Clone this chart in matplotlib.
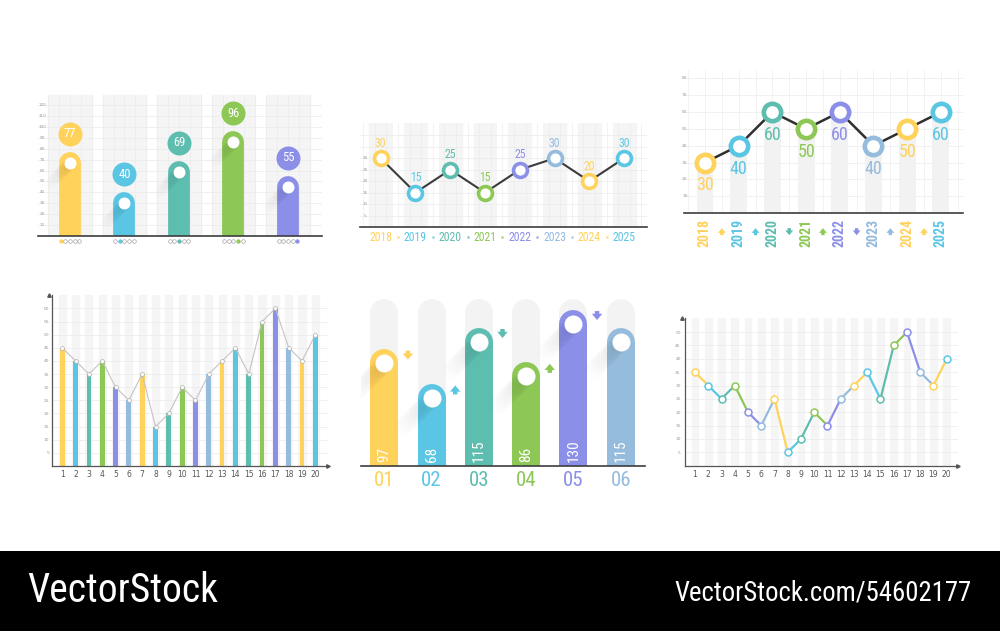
import numpy as np
import matplotlib.pyplot as plt
from matplotlib import font_manager
from matplotlib.font_manager import FontProperties


def narrow_fonts():
    # look for any condensed / narrow face among the installed fonts
    reg, bold = None, None
    good = []
    for f in font_manager.fontManager.ttflist:
        name = f.name + ' ' + str(f.fname)
        cond = ('Narrow' in name or 'Condensed' in name
                or f.stretch in ('condensed', 'semi-condensed', 'extra-condensed'))
        if cond and f.style == 'normal':
            good.append(f)
    good.sort(key=lambda f: ('Liberation' not in f.name, 'Roboto' not in f.name, f.name))
    for f in good:
        w = f.weight if isinstance(f.weight, int) else (700 if 'bold' in str(f.weight) else 400)
        if w <= 500 and reg is None:
            reg = FontProperties(fname=f.fname)
        if w >= 600 and bold is None:
            bold = FontProperties(fname=f.fname)
    if reg is None:
        reg = FontProperties(family='DejaVu Sans')
    if bold is None:
        bold = reg
    return reg, bold


NARROW, NARROW_B = narrow_fonts()

# palette
YEL = '#FFD25C'
BLU = '#5BC6E4'
TEA = '#5DBDAF'
GRN = '#8DC856'
PUR = '#8C8FE8'
STL = '#95BCDD'
CYCLE = [YEL, BLU, TEA, GRN, PUR, STL]
BAND = '#F5F5F5'
GRID = '#EAEAEA'
AXIS = '#3d3d3d'
TICK = '#9a9a9a'

# ---- data ----
p1_vals = [77, 40, 69, 96, 55]
p1_colors = [YEL, BLU, TEA, GRN, PUR]
p1_yticks = list(range(10, 130, 10))

p2_years = ['2018', '2019', '2020', '2021', '2022', '2023', '2024', '2025']
p2_vals = [30, 15, 25, 15, 25, 30, 20, 30]
p2_colors = [YEL, BLU, TEA, GRN, PUR, STL, YEL, BLU]
p2_yticks = [5, 10, 15, 20, 25, 30]

p3_years = ['2018', '2019', '2020', '2021', '2022', '2023', '2024', '2025']
p3_vals = [30, 40, 60, 50, 60, 40, 50, 60]
p3_colors = [YEL, BLU, TEA, GRN, PUR, STL, YEL, BLU]
p3_yticks = [10, 20, 30, 40, 50, 60, 70, 80]

p4_x = list(range(1, 21))
p4_vals = [45, 40, 35, 40, 30, 25, 35, 15, 20, 30, 25, 35, 40, 45, 35, 55, 60, 45, 40, 50]
p4_yticks = list(range(5, 65, 5))

p5_labels = ['01', '02', '03', '04', '05', '06']
p5_vals = [97, 68, 115, 86, 130, 115]
p5_colors = [YEL, BLU, TEA, GRN, PUR, STL]
p5_track = 138.5

p6_x = list(range(1, 21))
p6_vals = [35, 30, 25, 30, 20, 15, 25, 5, 10, 20, 15, 25, 30, 35, 25, 45, 50, 35, 30, 40]
p6_yticks = list(range(5, 55, 5))

W, H = 1000, 631
fig = plt.figure(figsize=(W / 100, H / 100), dpi=100)
fig.patch.set_facecolor('white')


def axes_at(left, top, right, bottom):
    ax = fig.add_axes([left / W, 1 - bottom / H, (right - left) / W, (bottom - top) / H])
    ax.set_facecolor('none')
    return ax


def px_per_unit(ax):
    x0, x1 = ax.get_xlim()
    y0, y1 = ax.get_ylim()
    return ax.bbox.width / (x1 - x0), ax.bbox.height / (y1 - y0)


def pill(ax, x, top, width, color, z=2):
    # bar with rounded top, drawn as a thick line with a round cap
    pxx, pxy = px_per_unit(ax)
    wpx = width * pxx
    r = wpx / 2 / pxy
    ax.plot([x, x], [-50, top - r], color=color, lw=wpx * 0.72,
            solid_capstyle='round', zorder=z)
    return r


def shadow(ax, x, y, rpx, length=26, z=2.5):
    # soft long shadow falling to the lower left of a circle
    pxx, pxy = px_per_unit(ax)
    n = 14
    for k in range(n):
        d = length * k / n
        ax.plot(x - d / pxx, y - d / pxy, 'o', ms=rpx * 2 * 0.72, color='#000000',
                alpha=0.022 * (1 - k / n), mec='none', zorder=z)


def arrow(ax, x, y, up, color, size=9, scale=1.0):
    pxx, pxy = px_per_unit(ax)
    half = size / 2 / pxy
    y0, y1 = (y - half, y + half) if up else (y + half, y - half)
    ax.annotate('', xy=(x, y1), xytext=(x, y0), annotation_clip=False,
                arrowprops=dict(arrowstyle='simple,head_length=0.45,head_width=0.75,tail_width=0.32',
                                color=color, mutation_scale=10 * scale, lw=0,
                                shrinkA=0, shrinkB=0))


def clean(ax):
    for s in ax.spines.values():
        s.set_visible(False)
    ax.set_xticks([])
    ax.set_yticks([])


# ================= panel 1 =================
ax1 = axes_at(38, 93, 322, 236)
ax1.set_xlim(-0.587, 4.624)
ax1.set_ylim(0, 131)
clean(ax1)
for i in range(5):
    ax1.axvspan(i - 0.4, i + 0.4, ymax=129 / 131, color=BAND, zorder=0)
for y in p1_yticks:
    ax1.axhline(y, color=GRID, lw=0.5, zorder=0.5)
for xg in np.arange(-0.4, 4.5, 0.2):
    ax1.axvline(xg, ymax=129 / 131, color=GRID, lw=0.4, zorder=0.5)
for y in p1_yticks:
    ax1.text(-0.51, y, str(y), fontsize=3, color=TICK, ha='center', va='center')
for i, (v, c) in enumerate(zip(p1_vals, p1_colors)):
    r = pill(ax1, i, v, 0.40, c)
    shadow(ax1, i, v - r, 6, length=24)
    ax1.plot(i, v - r, 'o', ms=12 * 0.72, color='white', mec='none', zorder=4)
    ax1.plot(i, v + 16.5, 'o', ms=24 * 0.72, color=c, mec='none', zorder=4)
    ax1.text(i, v + 16.5, str(v), color='white', ha='center', va='center',
             fontsize=9, fontproperties=NARROW, zorder=5)
    for k in range(5):
        ax1.plot(i + (k - 2) * 0.083, -4.6, 'o', ms=2.6,
                 mfc=c if k == i else 'white', mec='#8f8f8f' if k != i else c,
                 mew=0.4, clip_on=False)
ax1.axhline(0, color=AXIS, lw=1.2, clip_on=False, zorder=6)

# ================= panel 2 =================
ax2 = axes_at(360, 123, 647, 227)
ax2.set_xlim(-0.595, 7.66)
ax2.set_ylim(0, 45.4)
clean(ax2)
for i in range(len(p2_vals)):
    ax2.axvspan(i - 0.33, i + 0.33, color=BAND, zorder=0)
for y in range(5, 45, 5):
    ax2.axhline(y, color=GRID, lw=0.5, zorder=0.5)
for xg in np.arange(-0.5, 7.6, 1 / 3):
    ax2.axvline(xg, color=GRID, lw=0.4, zorder=0.5)
for y in p2_yticks:
    ax2.text(-0.45, y, str(y), fontsize=3, color=TICK, ha='center', va='center')
xs2 = np.arange(len(p2_vals))
ax2.plot(xs2, p2_vals, color='#3b3b3b', lw=1.5, zorder=3)
for i, (v, c, yr) in enumerate(zip(p2_vals, p2_colors, p2_years)):
    ax2.plot(i, v, 'o', ms=10, mfc='white', mec=c, mew=2.6, zorder=4)
    ax2.annotate(str(v), (i, v), xytext=(0, 6), textcoords='offset points',
                 ha='center', va='bottom', color=c, fontsize=8.5, fontproperties=NARROW)
    ax2.text(i, -4.4, yr, color=c, ha='center', va='center', fontsize=8.5,
             fontproperties=NARROW)
    if i < len(p2_vals) - 1:
        ax2.plot(i + 0.5, -4.4, 's', ms=2, color=c, mec='none', clip_on=False)
ax2.axhline(0, color=AXIS, lw=1.2, clip_on=False, zorder=6)

# ================= panel 3 =================
ax3 = axes_at(684, 70, 963, 213)
ax3.set_xlim(-0.623, 7.656)
ax3.set_ylim(0, 85)
clean(ax3)
for y in p3_yticks:
    ax3.axhline(y, color=GRID, lw=0.5, zorder=0.5)
for xg in np.arange(-0.5, 7.6, 0.5):
    ax3.axvline(xg, color=GRID, lw=0.4, zorder=0.5)
for y in p3_yticks:
    ax3.text(-0.68, y, str(y), fontsize=3.2, color=TICK, ha='left', va='center')
xs3 = np.arange(len(p3_vals))
ax3.bar(xs3, p3_vals, width=0.5, color='#F2F2F2', zorder=1)
ax3.plot(xs3, p3_vals, color='#2f2f2f', lw=1.8, zorder=3)
for i, (v, c, yr) in enumerate(zip(p3_vals, p3_colors, p3_years)):
    ax3.plot(i, v, 'o', ms=12.5, mfc='white', mec=c, mew=3.3, zorder=4)
    ax3.annotate(str(v), (i, v), xytext=(0, -10), textcoords='offset points',
                 ha='center', va='top', color=c, fontsize=13, fontproperties=NARROW)
    ax3.text(i, -3.6, yr, color=c, rotation=90, ha='center', va='top',
             fontsize=10, fontproperties=NARROW_B)
    if i < len(p3_vals) - 1:
        arrow(ax3, i + 0.5, -11.1, p3_vals[i + 1] > p3_vals[i], c, size=7, scale=0.75)
ax3.axhline(0, color=AXIS, lw=1.2, clip_on=False, zorder=6)

# ================= panel 4 =================
ax4 = axes_at(52, 295, 328, 466)
ax4.set_xlim(0.23, 20.95)
ax4.set_ylim(0, 65.1)
for s in ['top', 'right']:
    ax4.spines[s].set_visible(False)
for s in ['left', 'bottom']:
    ax4.spines[s].set_color('#555555')
    ax4.spines[s].set_linewidth(0.9)
ax4.plot(1, 0, '>', ms=2.5, color='#555555', transform=ax4.get_yaxis_transform(), clip_on=False)
ax4.plot(0, 1, '^', ms=2.5, color='#555555', transform=ax4.get_xaxis_transform(), clip_on=False)
for x in p4_x:
    ax4.axvspan(x - 0.27, x + 0.27, color=BAND, zorder=0)
for y in p4_yticks:
    ax4.axhline(y, color=GRID, lw=0.5, zorder=0.5)
p4_colors = [CYCLE[i % 6] for i in range(len(p4_x))]
ax4.bar(p4_x, p4_vals, width=0.36, color=p4_colors, zorder=2)
ax4.plot(p4_x, p4_vals, color='#C4C4C4', lw=0.8, zorder=3)
ax4.plot(p4_x, p4_vals, 'o', ms=2.8, mfc='white', mec='#b0b0b0', mew=0.5, zorder=4)
ax4.set_xticks(p4_x)
ax4.set_xticklabels([str(x) for x in p4_x])
ax4.set_yticks(p4_yticks)
ax4.set_yticklabels([str(y) for y in p4_yticks])
ax4.tick_params(axis='x', length=0, labelsize=5.5, labelcolor='#555555', pad=3)
ax4.tick_params(axis='y', length=0, labelsize=3.2, labelcolor=TICK, pad=2)

# ================= panel 5 =================
ax5 = axes_at(361, 298, 645, 465.5)
ax5.set_xlim(-0.493, 5.514)
ax5.set_ylim(0, 139.6)
clean(ax5)
for i, (v, c, lab) in enumerate(zip(p5_vals, p5_colors, p5_labels)):
    pill(ax5, i, p5_track, 0.592, '#F3F3F3', z=1)
    r = pill(ax5, i, v, 0.592, c, z=2)
    shadow(ax5, i, v - r, 9, length=34)
    ax5.plot(i, v - r, 'o', ms=13, color='white', mec='none', zorder=4)
    ax5.text(i, 3.2, str(v), rotation=90, ha='center', va='bottom', color='white',
             fontsize=11, fontproperties=NARROW, zorder=5)
    ax5.text(i, -12.3, lab, color=c, ha='center', va='center', fontsize=15,
             fontproperties=NARROW)
    if i < len(p5_vals) - 1:
        arrow(ax5, i + 0.5, v - 5, p5_vals[i + 1] > v, c, size=9)
ax5.axhline(0, color=AXIS, lw=1.2, clip_on=False, zorder=6)

# ================= panel 6 =================
ax6 = axes_at(685, 318, 958, 465.6)
ax6.set_xlim(0.245, 20.85)
ax6.set_ylim(0, 55.3)
for s in ['top', 'right']:
    ax6.spines[s].set_visible(False)
for s in ['left', 'bottom']:
    ax6.spines[s].set_color('#555555')
    ax6.spines[s].set_linewidth(0.9)
ax6.plot(1, 0, '>', ms=2.5, color='#555555', transform=ax6.get_yaxis_transform(), clip_on=False)
ax6.plot(0, 1, '^', ms=2.5, color='#555555', transform=ax6.get_xaxis_transform(), clip_on=False)
for x in p6_x:
    ax6.axvspan(x - 0.25, x + 0.25, color=BAND, zorder=0)
for y in p6_yticks:
    ax6.axhline(y, color=GRID, lw=0.5, zorder=0.5)
for i in range(len(p6_x) - 1):
    ax6.plot(p6_x[i:i + 2], p6_vals[i:i + 2], color=CYCLE[i % 6], lw=1.6,
             solid_capstyle='round', zorder=3)
for i, (x, v) in enumerate(zip(p6_x, p6_vals)):
    ax6.plot(x, v, 'o', ms=5, mfc='white', mec=CYCLE[i % 6], mew=1.1, zorder=4)
ax6.set_xticks(p6_x)
ax6.set_xticklabels([str(x) for x in p6_x])
ax6.set_yticks(p6_yticks)
ax6.set_yticklabels([str(y) for y in p6_yticks])
ax6.tick_params(axis='x', length=0, labelsize=5.5, labelcolor='#555555', pad=3)
ax6.tick_params(axis='y', length=0, labelsize=3.2, labelcolor=TICK, pad=3)

# ================= footer =================
foot = fig.add_axes([0, 0, 1, 80 / H])
foot.set_facecolor('black')
clean(foot)
fig.text(27 / W, 40 / H, 'VectorStock', color='white', fontsize=28.5, va='center',
         ha='left', fontproperties=NARROW)
fig.text(972 / W, 38 / H, 'VectorStock.com/54602177', color='white', fontsize=19.3,
         va='center', ha='right', fontproperties=NARROW)

fig.savefig('out.png', dpi=100, facecolor='white')
